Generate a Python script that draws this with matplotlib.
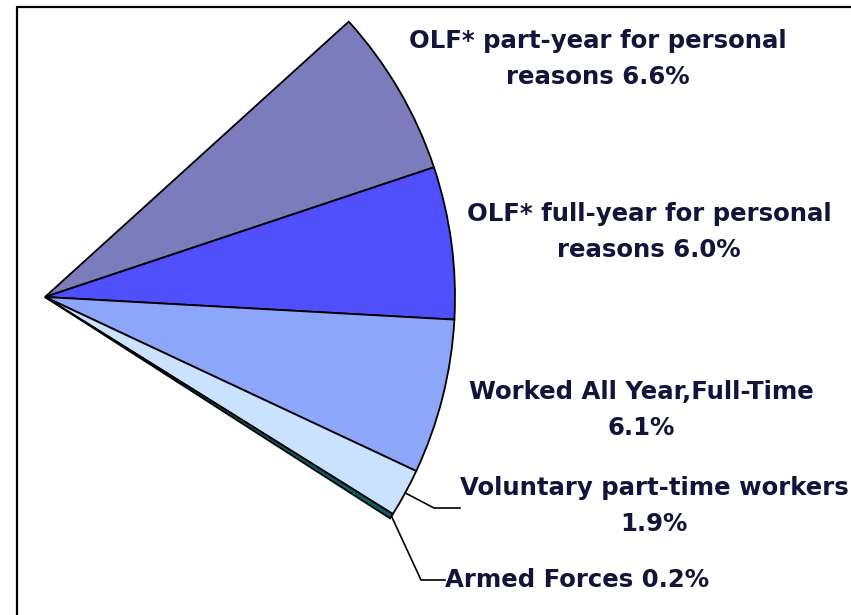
import numpy as np
import matplotlib
matplotlib.use("Agg")
import matplotlib.pyplot as plt

# ---- data ----
categories = ["OLF* part-year for personal\nreasons 6.6%",
              "OLF* full-year for personal\nreasons 6.0%",
              "Worked All Year,Full-Time\n6.1%",
              "Voluntary part-time workers\n1.9%",
              "Armed Forces 0.2%"]
values = [6.6, 6.0, 6.1, 1.9, 0.2]
colors = ["#7c7cbc", "#4f4ffc", "#8ca6fa", "#cbe2ff", "#0a5f66"]

W, H = 851, 615
fig = plt.figure(figsize=(W / 100, H / 100), dpi=100)
ax = fig.add_axes([0, 0, 1, 1])

center = (45, H - 297)
radius = 410
fracs = [v / 100 for v in values]
wedges, _ = ax.pie(fracs, normalize=False, startangle=42.2, counterclock=False,
                   colors=colors, center=center, radius=radius,
                   wedgeprops=dict(edgecolor="black", linewidth=1.3))
ax.set_xlim(0, W)
ax.set_ylim(0, H)
ax.set_aspect("auto")
ax.axis("off")

# frame
ax.plot([17, 17, W + 20], [-20, H - 7, H - 7], color="black", lw=1.6, solid_capstyle="butt")

txt_kw = dict(fontsize=17.6, fontweight="bold", color="#14143a",
              family=["DejaVu Sans"], ha="center", va="center",
              linespacing=1.6)
label_pos = [(598, H - 59), (649, H - 232), (641, H - 410), (654, H - 506), (577, H - 580)]
for lab, (x, y) in zip(categories, label_pos):
    ax.text(x, y, lab, **txt_kw)

# leader lines for small slices
def arc_mid(w):
    m = np.deg2rad((w.theta1 + w.theta2) / 2)
    return center[0] + radius * np.cos(m), center[1] + radius * np.sin(m)

x0, y0 = arc_mid(wedges[3])
ax.plot([x0, 434, 460], [y0, H - 508, H - 508], color="black", lw=1.2)
x0, y0 = arc_mid(wedges[4])
ax.plot([x0, 421, 445], [y0, H - 580, H - 580], color="black", lw=1.2)

fig.savefig("out.png", dpi=100)
